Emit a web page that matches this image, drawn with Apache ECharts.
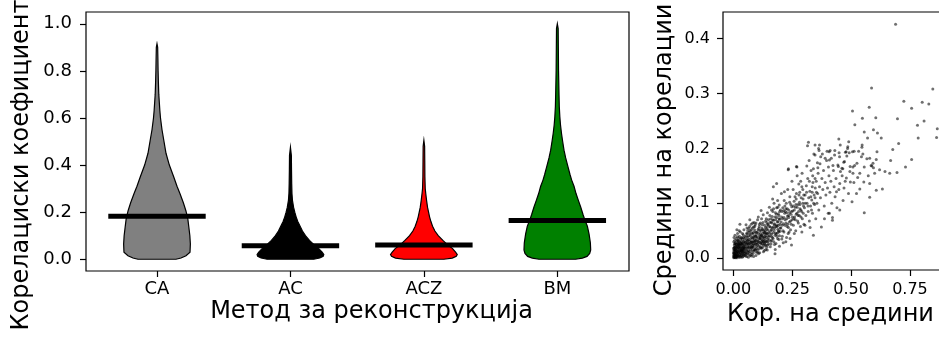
<!DOCTYPE html>
<html>
<head>
<meta charset="utf-8">
<script src="https://cdn.jsdelivr.net/npm/echarts@6/dist/echarts.min.js"></script>
<style>html,body{margin:0;padding:0;background:#fff;}#c{width:939px;height:338px;}</style>
</head>
<body>
<div id="c"></div>
<script>
// ---------------- DATA ----------------
const categories = ['CA', 'AC', 'ACZ', 'BM'];
const positions = [1, 2, 3, 4];
const means = [0.182, 0.057, 0.060, 0.165];

// violin profiles: levels (correlation value) and relative half-width (1 = widest)
const caLevels = [0.0, 0.005, 0.015, 0.03, 0.065, 0.1, 0.136, 0.17, 0.206, 0.24, 0.278, 0.31, 0.35, 0.40, 0.45, 0.50, 0.55, 0.60, 0.633, 0.70, 0.75, 0.80, 0.85, 0.90, 0.915];
const caWidths = [0.57, 0.72, 0.87, 0.99, 1.0, 0.985, 0.955, 0.925, 0.866, 0.79, 0.69, 0.6, 0.5, 0.37, 0.27, 0.21, 0.15, 0.105, 0.085, 0.054, 0.042, 0.033, 0.027, 0.02, 0.0];
const acLevels = [0.0, 0.005, 0.012, 0.02, 0.03, 0.045, 0.06, 0.08, 0.1, 0.12, 0.14, 0.16, 0.18, 0.2, 0.22, 0.25, 0.28, 0.32, 0.38, 0.44, 0.475];
const acWidths = [0.70, 0.88, 0.98, 1.0, 0.95, 0.85, 0.72, 0.57, 0.45, 0.36, 0.29, 0.22, 0.17, 0.13, 0.095, 0.06, 0.045, 0.038, 0.032, 0.028, 0.0];
const aczLevels = [0.0, 0.005, 0.012, 0.02, 0.03, 0.045, 0.06, 0.08, 0.1, 0.12, 0.14, 0.16, 0.18, 0.2, 0.22, 0.25, 0.28, 0.3, 0.35, 0.42, 0.48, 0.505];
const aczWidths = [0.6, 0.85, 0.97, 1.0, 0.95, 0.86, 0.72, 0.57, 0.43, 0.33, 0.26, 0.21, 0.17, 0.14, 0.11, 0.08, 0.055, 0.04, 0.03, 0.026, 0.022, 0.0];
const bmLevels = [0.0, 0.005, 0.012, 0.025, 0.04, 0.07, 0.108, 0.14, 0.165, 0.19, 0.222, 0.25, 0.279, 0.31, 0.336, 0.36, 0.392, 0.43, 0.463, 0.5, 0.534, 0.57, 0.605, 0.65, 0.7, 0.8, 0.9, 0.98, 1.0];
const bmWidths = [0.55, 0.75, 0.89, 0.97, 1.0, 0.99, 0.95, 0.9, 0.83, 0.77, 0.7, 0.63, 0.56, 0.5, 0.43, 0.38, 0.32, 0.25, 0.2, 0.16, 0.125, 0.095, 0.075, 0.058, 0.05, 0.036, 0.03, 0.025, 0.0];

// tick labels
const violinYTicks = [0.0, 0.2, 0.4, 0.6, 0.8, 1.0];
const scatterXTicks = [0.0, 0.25, 0.5, 0.75];
const scatterYTicks = [0.0, 0.1, 0.2, 0.3, 0.4];

// scatter points (correlation of means, mean of correlations)
const scatterCore = [
[0.002,0.001],[0.004,0.003],[0.006,0.002],[0.003,0.006],[0.008,0.004],[0.010,0.001],[0.012,0.006],[0.005,0.009],[0.009,0.011],[0.014,0.003],[0.016,0.008],[0.011,0.014],[0.018,0.012],[0.007,0.016],[0.020,0.004],[0.022,0.009],[0.013,0.019],[0.025,0.014],[0.003,0.012],[0.017,0.017],[0.024,0.002],[0.027,0.007],[0.029,0.018],[0.019,0.022],[0.031,0.011],[0.033,0.004],[0.035,0.016],[0.008,0.020],[0.015,0.025],[0.023,0.026],[0.037,0.021],[0.039,0.009],[0.041,0.014],[0.028,0.029],[0.043,0.025],[0.045,0.005],[0.047,0.019],[0.034,0.031],[0.010,0.028],[0.021,0.033],[0.049,0.012],[0.040,0.034],[0.004,0.024],[0.026,0.040],[0.044,0.030],[0.012,0.036],[0.032,0.024],[0.038,0.002],[0.048,0.036],[0.018,0.045],[0.030,0.048],[0.006,0.033],[0.042,0.043],[0.015,0.052],[0.028,0.062],[0.001,0.018],[0.002,0.030],[0.046,0.009],[0.036,0.038],[0.020,0.015],[0.024,0.020],[0.013,0.011],[0.009,0.007],[0.006,0.005],[0.016,0.001],[0.030,0.002],[0.034,0.008],[0.040,0.019],[0.027,0.023],[0.011,0.003],[0.002,0.008],[0.005,0.015],[0.021,0.028],[0.033,0.027],[0.042,0.007],[0.019,0.006],[0.008,0.026],[0.036,0.013],[0.044,0.017],[0.050,0.028],[0.014,0.031],[0.003,0.038],[0.023,0.037],[0.039,0.045],[0.045,0.052],[0.017,0.039],[0.031,0.035],[0.025,0.050],[0.007,0.042],[0.001,0.004],
[0.052,0.004],[0.055,0.015],[0.058,0.024],[0.060,0.008],[0.062,0.033],[0.064,0.019],[0.066,0.041],[0.068,0.012],[0.070,0.027],[0.072,0.005],[0.074,0.036],[0.076,0.021],[0.078,0.046],[0.080,0.014],[0.082,0.030],[0.084,0.009],[0.086,0.039],[0.088,0.024],[0.090,0.052],[0.092,0.017],[0.094,0.032],[0.096,0.043],[0.098,0.011],[0.100,0.028],[0.053,0.029],[0.057,0.040],[0.061,0.050],[0.065,0.026],[0.069,0.058],[0.073,0.016],[0.077,0.031],[0.081,0.055],[0.085,0.020],[0.089,0.035],[0.093,0.061],[0.097,0.022],[0.054,0.061],[0.059,0.018],[0.063,0.011],[0.067,0.034],[0.071,0.044],[0.075,0.025],[0.079,0.007],[0.083,0.044],[0.087,0.013],[0.091,0.040],[0.095,0.026],[0.099,0.037],[0.056,0.034],[0.064,0.002],[0.072,0.050],[0.080,0.038],[0.088,0.065],[0.096,0.005],[0.060,0.045],[0.068,0.022],[0.076,0.062],[0.084,0.026],[0.092,0.048],[0.070,0.070],[0.058,0.055],[0.086,0.003],[0.078,0.019],[0.066,0.007],[0.094,0.015],[0.082,0.023],[0.074,0.029],[0.062,0.021],[0.090,0.031],[0.098,0.047],
[0.102,0.015],[0.104,0.032],[0.106,0.045],[0.108,0.022],[0.110,0.058],[0.112,0.010],[0.114,0.037],[0.116,0.028],[0.118,0.051],[0.120,0.018],[0.122,0.042],[0.124,0.033],[0.126,0.065],[0.128,0.024],[0.130,0.048],[0.132,0.014],[0.134,0.039],[0.136,0.056],[0.138,0.030],[0.140,0.072],[0.142,0.020],[0.144,0.044],[0.146,0.035],[0.148,0.061],[0.150,0.026],[0.103,0.070],[0.107,0.008],[0.111,0.041],[0.115,0.064],[0.119,0.034],[0.123,0.026],[0.127,0.079],[0.131,0.036],[0.135,0.023],[0.139,0.046],[0.143,0.031],[0.147,0.052],[0.105,0.027],[0.109,0.036],[0.113,0.050],[0.117,0.019],[0.121,0.055],[0.125,0.046],[0.129,0.031],[0.133,0.060],[0.137,0.041],[0.141,0.053],[0.145,0.083],[0.149,0.040],[0.118,0.087],[0.128,0.012],[0.138,0.016],[0.108,0.054],[0.124,0.039],[0.142,0.065],[0.112,0.029],[0.134,0.047],[0.146,0.024],[0.120,0.072],[0.101,0.048],
[0.152,0.034],[0.154,0.058],[0.156,0.045],[0.158,0.072],[0.160,0.026],[0.162,0.052],[0.164,0.064],[0.166,0.038],[0.168,0.085],[0.170,0.047],[0.172,0.030],[0.174,0.061],[0.176,0.055],[0.178,0.016],[0.180,0.070],[0.182,0.044],[0.184,0.092],[0.186,0.058],[0.188,0.036],[0.190,0.067],[0.192,0.050],[0.194,0.078],[0.196,0.041],[0.198,0.062],[0.200,0.088],[0.153,0.093],[0.157,0.021],[0.161,0.040],[0.165,0.076],[0.169,0.057],[0.173,0.100],[0.177,0.042],[0.181,0.027],[0.185,0.074],[0.189,0.053],[0.193,0.034],[0.197,0.071],[0.155,0.065],[0.163,0.033],[0.171,0.069],[0.179,0.083],[0.187,0.046],[0.195,0.097],[0.159,0.050],[0.167,0.108],[0.175,0.025],[0.183,0.060],[0.191,0.081],[0.199,0.049],[0.170,0.130],[0.184,0.136],[0.177,0.008],[0.196,0.022],[0.162,0.088],[0.188,0.105],
[0.202,0.055],[0.205,0.075],[0.208,0.040],[0.210,0.092],[0.213,0.063],[0.215,0.048],[0.218,0.082],[0.220,0.070],[0.223,0.030],[0.225,0.100],[0.228,0.058],[0.230,0.077],[0.233,0.045],[0.235,0.088],[0.238,0.066],[0.240,0.112],[0.243,0.052],[0.245,0.080],[0.248,0.094],[0.250,0.070],[0.204,0.118],[0.207,0.060],[0.212,0.028],[0.216,0.105],[0.221,0.085],[0.226,0.038],[0.231,0.125],[0.236,0.074],[0.241,0.036],[0.246,0.062],[0.249,0.140],[0.219,0.095],[0.224,0.064],[0.229,0.090],[0.234,0.056],[0.239,0.083],[0.244,0.098],[0.209,0.072],[0.214,0.087],[0.233,0.161],[0.247,0.024],[0.217,0.121],[0.227,0.072],[0.237,0.048],[0.206,0.035],
[0.252,0.086],[0.255,0.060],[0.258,0.104],[0.260,0.075],[0.263,0.093],[0.265,0.050],[0.268,0.118],[0.270,0.082],[0.273,0.068],[0.275,0.098],[0.278,0.135],[0.280,0.078],[0.283,0.090],[0.285,0.058],[0.288,0.110],[0.290,0.085],[0.293,0.072],[0.295,0.125],[0.298,0.095],[0.300,0.062],[0.254,0.125],[0.259,0.045],[0.262,0.112],[0.267,0.080],[0.271,0.150],[0.276,0.064],[0.281,0.102],[0.286,0.140],[0.291,0.048],[0.296,0.108],[0.268,0.167],[0.257,0.072],[0.266,0.098],[0.277,0.085],[0.287,0.075],[0.297,0.082],[0.282,0.120],[0.292,0.155],
[0.302,0.092],[0.305,0.115],[0.308,0.078],[0.310,0.132],[0.313,0.100],[0.316,0.145],[0.318,0.085],[0.320,0.110],[0.323,0.068],[0.325,0.122],[0.328,0.095],[0.330,0.160],[0.333,0.106],[0.336,0.082],[0.338,0.138],[0.340,0.042],[0.343,0.115],[0.345,0.098],[0.348,0.128],[0.350,0.072],[0.304,0.060],[0.312,0.168],[0.322,0.178],[0.326,0.056],[0.332,0.088],[0.337,0.150],[0.342,0.190],[0.347,0.110],[0.315,0.205],[0.335,0.120],
[0.352,0.140],[0.355,0.100],[0.358,0.118],[0.360,0.155],[0.363,0.088],[0.366,0.130],[0.368,0.172],[0.370,0.110],[0.374,0.057],[0.376,0.145],[0.380,0.125],[0.383,0.160],[0.386,0.095],[0.390,0.138],[0.393,0.115],[0.396,0.178],[0.400,0.128],[0.403,0.082],[0.406,0.150],[0.410,0.120],[0.414,0.140],[0.418,0.100],[0.421,0.069],[0.425,0.160],[0.428,0.130],[0.432,0.112],[0.436,0.145],[0.440,0.092],[0.444,0.170],[0.448,0.125],[0.362,0.200],[0.378,0.190],[0.398,0.195],[0.416,0.182],[0.387,0.072]
];
const scatterDense = [
[0.001,0.010],[0.003,0.002],[0.005,0.020],[0.007,0.008],[0.009,0.002],[0.011,0.022],[0.013,0.005],[0.015,0.013],[0.017,0.003],[0.019,0.027],[0.021,0.011],[0.023,0.005],[0.025,0.024],[0.027,0.013],[0.029,0.004],[0.031,0.020],[0.033,0.015],[0.035,0.006],[0.037,0.028],[0.039,0.017],[0.041,0.003],[0.043,0.012],[0.045,0.022],[0.047,0.031],[0.049,0.006],[0.051,0.018],[0.053,0.010],[0.055,0.026],[0.057,0.003],[0.059,0.032],[0.002,0.015],[0.004,0.019],[0.006,0.027],[0.008,0.013],[0.010,0.017],[0.012,0.025],[0.014,0.009],[0.016,0.021],[0.018,0.033],[0.020,0.019],[0.022,0.024],[0.024,0.031],[0.026,0.018],[0.028,0.010],[0.030,0.027],[0.032,0.014],[0.034,0.037],[0.036,0.025],[0.038,0.012],[0.040,0.027],[0.042,0.020],[0.044,0.038],[0.046,0.015],[0.048,0.024],[0.050,0.040],[0.052,0.021],[0.054,0.008],[0.056,0.045],[0.058,0.013],[0.060,0.028],
[0.061,0.038],[0.063,0.027],[0.065,0.014],[0.067,0.048],[0.069,0.031],[0.071,0.019],[0.073,0.041],[0.075,0.010],[0.077,0.052],[0.079,0.028],[0.081,0.020],[0.083,0.036],[0.085,0.047],[0.087,0.030],[0.089,0.015],[0.091,0.058],[0.093,0.027],[0.095,0.040],[0.097,0.033],[0.099,0.018],[0.101,0.039],[0.103,0.024],[0.105,0.052],[0.107,0.031],[0.109,0.017],[0.111,0.062],[0.113,0.036],[0.115,0.045],[0.117,0.026],[0.119,0.042],[0.121,0.030],[0.123,0.061],[0.125,0.020],[0.127,0.038],[0.129,0.052],[0.131,0.027],[0.133,0.044],[0.135,0.033],[0.137,0.068],[0.139,0.024],[0.141,0.038],[0.143,0.057],[0.145,0.045],[0.147,0.030],[0.149,0.070],[0.104,0.011],[0.114,0.021],[0.124,0.052],[0.134,0.028],[0.144,0.015],[0.066,0.054],[0.076,0.004],[0.086,0.057],[0.096,0.064],[0.106,0.075],[0.116,0.040],[0.126,0.030],[0.136,0.050],[0.146,0.062],[0.082,0.064],
[0.151,0.048],[0.153,0.040],[0.155,0.078],[0.157,0.057],[0.159,0.031],[0.161,0.066],[0.163,0.044],[0.165,0.055],[0.167,0.070],[0.169,0.036],[0.171,0.090],[0.173,0.051],[0.175,0.063],[0.177,0.075],[0.179,0.046],[0.181,0.058],[0.183,0.080],[0.185,0.040],[0.187,0.066],[0.189,0.093],[0.191,0.060],[0.193,0.048],[0.195,0.072],[0.197,0.085],[0.199,0.055],[0.203,0.066],[0.207,0.085],[0.211,0.050],[0.215,0.074],[0.219,0.060],[0.223,0.090],[0.227,0.083],[0.231,0.062],[0.235,0.078],[0.239,0.102],[0.243,0.068],[0.247,0.085],[0.251,0.075],[0.255,0.095],[0.259,0.088],[0.263,0.070],[0.267,0.108],[0.271,0.093],[0.275,0.078],[0.279,0.115],[0.283,0.098],[0.287,0.088],[0.291,0.130],[0.295,0.100],[0.299,0.115],[0.305,0.100],[0.311,0.120],[0.317,0.095],[0.323,0.140],[0.329,0.112],[0.335,0.130],[0.341,0.100],[0.347,0.145],[0.353,0.120],[0.359,0.165]
];
const scatterOuter = [
[0.689,0.426],[0.587,0.310],[0.847,0.308],[0.724,0.286],[0.802,0.284],[0.830,0.281],[0.577,0.275],[0.757,0.273],[0.506,0.268],[0.548,0.255],[0.605,0.256],[0.697,0.254],[0.810,0.250],[0.516,0.243],[0.782,0.242],[0.866,0.236],[0.556,0.230],[0.595,0.234],[0.612,0.228],[0.628,0.219],[0.570,0.219],[0.863,0.220],[0.785,0.219],[0.702,0.209],[0.490,0.212],[0.454,0.206],[0.547,0.206],[0.546,0.202],[0.485,0.200],[0.479,0.194],[0.492,0.192],[0.513,0.195],[0.532,0.195],[0.610,0.194],[0.550,0.190],[0.482,0.186],[0.567,0.181],[0.607,0.180],[0.668,0.178],[0.757,0.180],[0.472,0.176],[0.496,0.167],[0.515,0.169],[0.525,0.173],[0.556,0.166],[0.585,0.169],[0.595,0.165],[0.731,0.166],[0.461,0.164],
[0.319,0.211],[0.347,0.206],[0.366,0.206],[0.364,0.196],[0.407,0.194],[0.411,0.196],[0.449,0.192],[0.431,0.196],[0.430,0.188],[0.476,0.193],[0.347,0.188],[0.371,0.185],[0.390,0.182],[0.451,0.185],[0.357,0.174],[0.408,0.179],[0.423,0.169],[0.469,0.175],[0.446,0.167],[0.234,0.163],[0.270,0.166],[0.340,0.163],[0.404,0.166],[0.465,0.163],[0.508,0.166],[0.588,0.168],
[0.621,0.161],[0.644,0.158],[0.664,0.155],[0.695,0.156],[0.600,0.155],[0.573,0.150],[0.537,0.155],[0.554,0.139],[0.579,0.136],[0.607,0.124],[0.633,0.126],[0.579,0.111],[0.537,0.126],[0.523,0.118],[0.504,0.103],[0.556,0.083],[0.452,0.088],[0.421,0.074],[0.408,0.082],[0.508,0.155],[0.480,0.146],[0.497,0.139],[0.452,0.136],[0.438,0.121],[0.544,0.185],[0.579,0.182],[0.593,0.173],[0.506,0.194],[0.486,0.203],[0.448,0.217],[0.677,0.198],
[0.462,0.150],[0.470,0.128],[0.489,0.118],[0.512,0.138],[0.528,0.147],[0.466,0.105],[0.495,0.158],[0.455,0.158],[0.475,0.140]
];

// ---------------- CHART ----------------
const FONT = 'DejaVu Sans';
const violinProfiles = [
  {levels: caLevels, widths: caWidths},
  {levels: acLevels, widths: acWidths},
  {levels: aczLevels, widths: aczWidths},
  {levels: bmLevels, widths: bmWidths}
];
const violinFill = ['#808080', '#000000', '#ff0000', '#008000'];
const HALF = 0.25;     // violin half-width at the widest level (x units)
const MEAN_HALF = 0.365;

const chart = echarts.init(document.getElementById('c'), null, {renderer: 'canvas'});

function tick(vals) { return {show: true, length: 6, inside: false, lineStyle: {color: '#000', width: 1.2}, customValues: vals}; }
const noLine = {show: false, onZero: false};

chart.setOption({
  animation: false,
  backgroundColor: '#fff',
  textStyle: {fontFamily: FONT, color: '#000'},
  grid: [
    {left: 86, top: 12, width: 543, height: 259, show: true, borderColor: '#000', borderWidth: 1.2, backgroundColor: 'transparent', containLabel: false, outerBoundsMode: 'none'},
    {left: 723, top: 12, width: 227, height: 258, show: true, borderColor: '#000', borderWidth: 1.2, backgroundColor: 'transparent', containLabel: false, outerBoundsMode: 'none'}
  ],
  xAxis: [
    {
      type: 'value', gridIndex: 0, min: 0.468, max: 4.537, position: 'bottom',
      axisLine: noLine, splitLine: {show: false},
      axisTick: tick(positions),
      axisLabel: {customValues: positions, formatter: v => categories[Math.round(v) - 1] || '', fontSize: 18, fontFamily: FONT, color: '#000', margin: 9}
    },
    {
      type: 'value', gridIndex: 1, min: -0.0438, max: 0.92, position: 'bottom',
      axisLine: noLine, splitLine: {show: false},
      axisTick: tick(scatterXTicks),
      axisLabel: {customValues: scatterXTicks, formatter: v => v.toFixed(2), fontSize: 16, fontFamily: FONT, color: '#000', margin: 12}
    }
  ],
  yAxis: [
    {
      type: 'value', gridIndex: 0, min: -0.05, max: 1.05, position: 'left',
      axisLine: noLine, splitLine: {show: false},
      axisTick: tick(violinYTicks),
      axisLabel: {customValues: violinYTicks, formatter: v => v.toFixed(1), fontSize: 18, fontFamily: FONT, color: '#000', margin: 14}
    },
    {
      type: 'value', gridIndex: 1, min: -0.0214, max: 0.4484, position: 'left',
      axisLine: noLine, splitLine: {show: false},
      axisTick: tick(scatterYTicks),
      axisLabel: {customValues: scatterYTicks, formatter: v => v.toFixed(1), fontSize: 16, fontFamily: FONT, color: '#000', margin: 13}
    }
  ],
  series: [
    {
      type: 'custom', xAxisIndex: 0, yAxisIndex: 0, z: 2,
      data: positions.map(p => [p]),
      encode: {x: 0},
      renderItem: function (params, api) {
        const i = params.dataIndex;
        const pos = api.value(0);
        const prof = violinProfiles[i];
        const pts = [];
        for (let k = 0; k < prof.levels.length; k++) {
          pts.push(api.coord([pos - prof.widths[k] * HALF, prof.levels[k]]));
        }
        for (let k = prof.levels.length - 1; k >= 0; k--) {
          pts.push(api.coord([pos + prof.widths[k] * HALF, prof.levels[k]]));
        }
        return {type: 'polygon', shape: {points: pts}, style: {fill: violinFill[i], stroke: '#000', lineWidth: 1.2}};
      }
    },
    {
      type: 'custom', xAxisIndex: 0, yAxisIndex: 0, z: 3,
      data: positions.map((p, i) => [p, means[i]]),
      encode: {x: 0, y: 1},
      renderItem: function (params, api) {
        const p = api.value(0), m = api.value(1);
        const a = api.coord([p - MEAN_HALF, m]);
        const b = api.coord([p + MEAN_HALF, m]);
        return {type: 'line', shape: {x1: a[0], y1: a[1], x2: b[0], y2: b[1]}, style: {stroke: '#000', lineWidth: 5, lineCap: 'butt'}};
      }
    },
    {
      type: 'scatter', xAxisIndex: 1, yAxisIndex: 1, z: 2,
      data: scatterCore.concat(scatterDense, scatterOuter),
      symbol: 'circle', symbolSize: 3,
      itemStyle: {color: 'rgba(0,0,0,0.7)'},
      silent: true
    }
  ],
  graphic: [
    {type: 'text', x: 22, y: 165, rotation: Math.PI / 2, style: {text: 'Корелациски коефициент', font: '24px "DejaVu Sans"', fill: '#000', align: 'center', verticalAlign: 'middle'}},
    {type: 'text', x: 371.5, y: 312, style: {text: 'Метод за реконструкција', font: '24px "DejaVu Sans"', fill: '#000', align: 'center', verticalAlign: 'middle'}},
    {type: 'text', x: 665, y: 150, rotation: Math.PI / 2, style: {text: 'Средини на корелации', font: '24px "DejaVu Sans"', fill: '#000', align: 'center', verticalAlign: 'middle'}},
    {type: 'text', x: 830.5, y: 315, style: {text: 'Кор. на средини', font: '24px "DejaVu Sans"', fill: '#000', align: 'center', verticalAlign: 'middle'}}
  ]
});
</script>
</body>
</html>
